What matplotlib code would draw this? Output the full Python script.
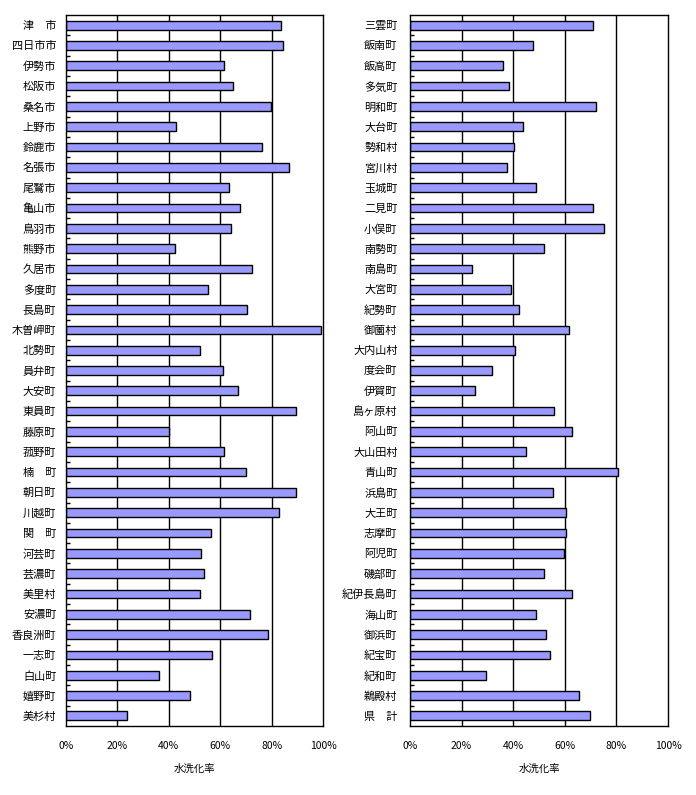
import matplotlib.pyplot as plt
import numpy as np

plt.rcParams['font.family'] = ['Noto Sans CJK JP', 'DejaVu Sans']

left_names = ['津　市', '四日市市', '伊勢市', '松阪市', '桑名市', '上野市', '鈴鹿市',
              '名張市', '尾鷲市', '亀山市', '鳥羽市', '熊野市', '久居市', '多度町',
              '長島町', '木曽岬町', '北勢町', '員弁町', '大安町', '東員町', '藤原町',
              '菰野町', '楠　町', '朝日町', '川越町', '関　町', '河芸町', '芸濃町',
              '美里村', '安濃町', '香良洲町', '一志町', '白山町', '嬉野町', '美杉村']
left_vals = [83.7, 84.5, 61.6, 65.1, 79.8, 42.7, 76.3, 86.8, 63.5, 67.8, 64.3, 42.3,
             72.4, 55.4, 70.5, 99.2, 52.3, 61.2, 67.0, 89.5, 40.2, 61.6, 70.1, 89.5,
             82.9, 56.5, 52.7, 53.8, 52.3, 71.7, 78.7, 56.9, 36.0, 48.4, 23.9]

right_names = ['三雲町', '飯南町', '飯高町', '多気町', '明和町', '大台町', '勢和村',
               '宮川村', '玉城町', '二見町', '小俣町', '南勢町', '南島町', '大宮町',
               '紀勢町', '御薗村', '大内山村', '度会町', '伊賀町', '島ヶ原村', '阿山町',
               '大山田村', '青山町', '浜島町', '大王町', '志摩町', '阿児町', '磯部町',
               '紀伊長島町', '海山町', '御浜町', '紀宝町', '紀和町', '鵜殿村', '県　計']
right_vals = [70.9, 47.7, 36.0, 38.4, 72.1, 43.8, 40.3, 37.6, 48.8, 70.9, 75.2, 51.9,
              24.0, 39.1, 42.2, 61.6, 40.7, 31.8, 25.2, 55.8, 62.8, 45.0, 80.6, 55.4,
              60.5, 60.5, 59.7, 51.9, 62.8, 48.8, 52.7, 54.3, 29.5, 65.5, 69.8]

xticks = [0, 20, 40, 60, 80, 100]
xtick_labels = ['0%', '20%', '40%', '60%', '80%', '100%']

fig = plt.figure(figsize=(6.96, 7.95), dpi=100)
ax_l = fig.add_axes([66 / 696, 69 / 795, 257 / 696, 711 / 795])
ax_r = fig.add_axes([410 / 696, 69 / 795, 258 / 696, 711 / 795])

for ax, names, vals, pad in [(ax_l, left_names, left_vals, 7), (ax_r, right_names, right_vals, 9)]:
    y = np.arange(len(names))
    for g in xticks[1:-1]:
        ax.axvline(g, color='black', lw=1, zorder=1)
    ax.barh(y, vals, height=0.43, color='#9999FF', edgecolor='black', lw=1, zorder=2)
    ax.set_xlim(0, 100)
    ax.set_ylim(len(names) - 0.5, -0.5)
    ax.set_yticks(y)
    ax.set_yticklabels(names, fontsize=8)
    ax.tick_params(axis='y', which='major', length=0, pad=pad)
    ax.set_yticks(np.arange(len(names) - 1) + 0.5, minor=True)
    ax.tick_params(axis='y', which='minor', direction='in', length=3, width=1)
    ax.set_xticks(xticks)
    ax.set_xticklabels(xtick_labels, fontsize=7.5)
    ax.tick_params(axis='x', length=0, pad=11)
    ax.set_xlabel('水洗化率', fontsize=7.5, labelpad=9)
    for s in ax.spines.values():
        s.set_linewidth(1)
        s.set_color('black')

fig.savefig('out.png', dpi=100)
